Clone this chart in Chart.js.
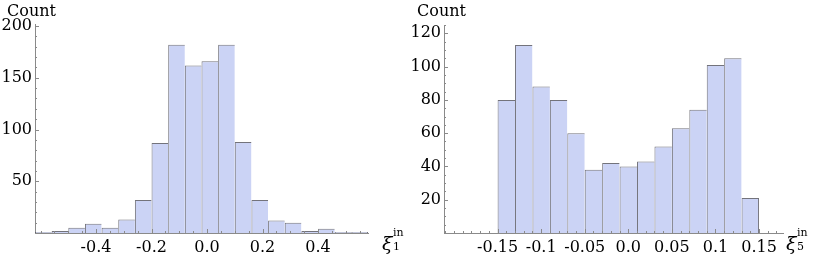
<!DOCTYPE html>
<html>
<head>
<meta charset="utf-8">
<script src="https://cdn.jsdelivr.net/npm/chart.js@4/dist/chart.umd.min.js"></script>
<style>
  html, body { margin: 0; padding: 0; background: #fff; }
  body { width: 817px; height: 255px; position: relative; overflow: hidden; font-family: "DejaVu Serif", serif; }
  .pane { position: absolute; top: 0; height: 255px; }
  .lbl { position: absolute; font-family: "DejaVu Serif", serif; color: #000; white-space: nowrap; }
  .count { font-size: 16px; line-height: 18px; }
  .xi { font-size: 19px; line-height: 20px; font-style: italic; }
  .ss { position: absolute; left: 11px; font-style: normal; font-size: 11px; line-height: 12px; }
</style>
</head>
<body>
<div class="pane" style="left:0;width:409px"><canvas id="c1"></canvas></div>
<div class="pane" style="left:409px;width:408px"><canvas id="c2"></canvas></div>

<div class="lbl count" style="left:7px;top:2px">Count</div>
<div class="lbl count" style="left:417px;top:2px">Count</div>
<div class="lbl xi" style="left:382px;top:233px">ξ<span class="ss" style="top:-6px">in</span><span class="ss" style="top:8px">1</span></div>
<div class="lbl xi" style="left:786px;top:233px">ξ<span class="ss" style="top:-6px">in</span><span class="ss" style="top:8px">5</span></div>

<script>
// ---- data: left histogram (xi_1^in) ----
const binCenters1 = [-0.59,-0.53,-0.47,-0.41,-0.35,-0.29,-0.23,-0.17,-0.11,-0.05,0.01,0.07,0.13,0.19,0.25,0.31,0.37,0.43,0.49,0.55];
const counts1     = [1,2,5,9,5,13,32,87,182,162,166,182,88,32,12,10,2,4,1,1];
const xTicks1     = [-0.4,-0.2,0.0,0.2,0.4];
const xTickLabels1 = ["-0.4","-0.2","0.0","0.2","0.4"];
const yTicks1     = [50,100,150,200];

// ---- data: right histogram (xi_5^in) ----
const binCenters2 = [-0.14,-0.12,-0.10,-0.08,-0.06,-0.04,-0.02,0.00,0.02,0.04,0.06,0.08,0.10,0.12,0.14];
const counts2     = [80,113,88,80,60,38,42,40,43,52,63,74,101,105,21];
const xTicks2     = [-0.15,-0.1,-0.05,0.0,0.05,0.1,0.15];
const xTickLabels2 = ["-0.15","-0.1","-0.05","0.0","0.05","0.1","0.15"];
const yTicks2     = [20,40,60,80,100,120];

const FILL = '#cbd3f5';
const EDGE = 'rgba(90,90,100,0.85)';
const AXIS = '#8a8a8a';
const FONT = { family: '"DejaVu Serif", serif', size: 16 };

function minorTicks(min, max, step) {
  const out = [];
  const n0 = Math.ceil(min / step - 1e-9), n1 = Math.floor(max / step + 1e-9);
  for (let n = n0; n <= n1; n++) out.push(+(n * step).toFixed(6));
  return out;
}

const tickPlugin = {
  id: 'inwardTicks',
  afterDraw(chart, args, opts) {
    const ctx = chart.ctx, xs = chart.scales.x, ys = chart.scales.y;
    const a = chart.chartArea;
    ctx.save();
    ctx.strokeStyle = AXIS;
    ctx.lineWidth = 1;
    ctx.beginPath();
    for (const v of opts.xMinor) {
      const px = Math.round(xs.getPixelForValue(v)) + 0.5;
      const len = opts.xMajor.some(m => Math.abs(m - v) < 1e-6) ? 4 : 2;
      ctx.moveTo(px, a.bottom); ctx.lineTo(px, a.bottom - len);
    }
    for (const v of opts.yMinor) {
      const py = Math.round(ys.getPixelForValue(v)) + 0.5;
      const len = opts.yMajor.includes(v) ? 4 : 2;
      ctx.moveTo(a.left, py); ctx.lineTo(a.left + len, py);
    }
    ctx.stroke();
    ctx.restore();
  }
};

function makeChart(id, centers, counts, xmin, xmax, ymax, xTicks, xLabels, yTicks, yMinorStep, xMinorStep, padRight, padTop) {
  const last = counts.length - 1;
  return new Chart(document.getElementById(id), {
    type: 'bar',
    data: {
      datasets: [{
        data: centers.map((c, i) => ({ x: c, y: counts[i] })),
        backgroundColor: FILL,
        borderColor: EDGE,
        borderWidth: (ctx) => ({ top: 1, left: 1, bottom: 0, right: ctx.dataIndex === last ? 1 : 0 }),
        borderSkipped: false,
        inflateAmount: 0,
        barPercentage: 1,
        categoryPercentage: 1
      }]
    },
    options: {
      responsive: true,
      maintainAspectRatio: false,
      animation: false,
      events: [],
      layout: { padding: { left: 0, right: padRight, top: padTop, bottom: 0 } },
      plugins: {
        legend: { display: false },
        tooltip: { enabled: false },
        inwardTicks: {
          xMajor: xTicks, xMinor: minorTicks(xmin, xmax, xMinorStep),
          yMajor: yTicks, yMinor: minorTicks(0, ymax, yMinorStep)
        }
      },
      scales: {
        x: {
          type: 'linear', min: xmin, max: xmax, offset: false,
          grid: { display: false, drawTicks: false },
          border: { display: true, color: AXIS, width: 1 },
          afterBuildTicks: (s) => { s.ticks = xTicks.map(v => ({ value: v })); },
          afterFit: (s) => { s.height = 22; },
          ticks: {
            autoSkip: false, maxRotation: 0, padding: 5, color: '#000', font: FONT,
            callback: (v) => { const i = xTicks.findIndex(t => Math.abs(t - v) < 1e-9); return i >= 0 ? xLabels[i] : ''; }
          }
        },
        y: {
          type: 'linear', min: 0, max: ymax,
          grid: { display: false, drawTicks: false },
          border: { display: true, color: AXIS, width: 1 },
          afterBuildTicks: (s) => { s.ticks = yTicks.map(v => ({ value: v })); },
          afterFit: (s) => { s.width = 35; },
          ticks: { padding: 3, color: '#000', font: FONT, callback: (v) => String(v) }
        }
      }
    },
    plugins: [tickPlugin]
  });
}

makeChart('c1', binCenters1, counts1, -0.62, 0.58, 202, xTicks1, xTickLabels1, yTicks1, 10, 0.05, 41, 24);
makeChart('c2', binCenters2, counts2, -0.2115, 0.1775, 125, xTicks2, xTickLabels2, yTicks2, 5, 0.01, 34, 25);
</script>
</body>
</html>
